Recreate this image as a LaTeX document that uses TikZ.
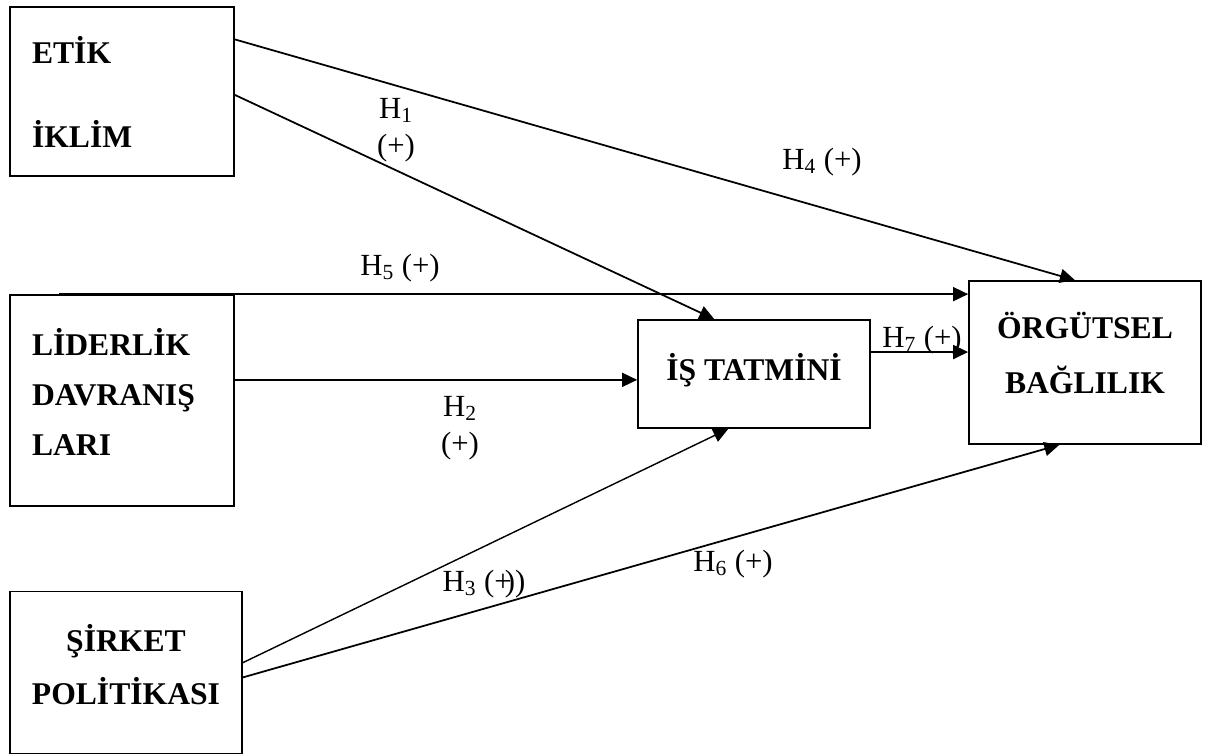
\documentclass[tikz,border=0pt]{standalone}
\usepackage{fontspec}
\setmainfont{Liberation Serif}
\usetikzlibrary{arrows.meta,calc}

\begin{document}
\begin{tikzpicture}[x=0.02cm, y=-0.02cm,
  every node/.style={font=\fontsize{17.5}{20}\selectfont},
  cbox/.style={draw, line width=1pt, inner sep=0pt, align=center,
               font=\fontsize{18}{22}\selectfont\bfseries},
  lbox/.style={cbox, align=left, inner xsep=0.44cm, text width=3.6cm},
  hlab/.style={inner sep=1pt, align=center},
  arr/.style={-{Triangle[length=0.3cm,width=0.28cm]}, line width=1pt}
]
\useasboundingbox (0,0) rectangle (1216,756);

%% --- boxes ---
\node[lbox, minimum width=4.48cm, minimum height=3.38cm]
      (et_b) at (122,91.5)  {ET\.IK\\[25.8pt]\.IKL\.IM};
\node[lbox, minimum width=4.48cm, minimum height=4.22cm]
      (ld_b) at (122,400.5) {L\.IDERL\.IK\\[6.5pt]DAVRANI\c{S}\\[6.5pt]LARI\\[-12pt]\mbox{}};
\node[cbox, minimum width=4.64cm, minimum height=3.24cm]
      (sp_b) at (126,672.5) {\c{S}\.IRKET\\[8.2pt]POL\.IT\.IKASI\\[-13pt]\mbox{}};
\node[cbox, minimum width=4.64cm, minimum height=2.16cm]
      (it_b) at (754,374)   {\.I\c{S} TATM\.IN\.I\\[-14pt]\mbox{}};
\node[cbox, minimum width=4.64cm, minimum height=3.26cm]
      (ob_b) at (1085,362.5) {\"ORG\"UTSEL\\[9.3pt]BA\u{G}LILIK\\[-10.6pt]\mbox{}};

%% --- connector ends ---
\coordinate (h4_s) at ($(et_b.north east)!0.195!(et_b.south east)$);
\coordinate (h4_e) at ($(ob_b.north west)!0.457!(ob_b.north east)$);
\coordinate (h1_s) at ($(et_b.north east)!0.52!(et_b.south east)$);
\coordinate (h1_e) at ($(it_b.north west)!0.33!(it_b.north east)$);
\coordinate (h5_s) at ($(ld_b.north west)!0.223!(ld_b.north east)$);
\coordinate (h2_s) at ($(ld_b.north east)!0.403!(ld_b.south east)$);
\coordinate (h7_s) at ($(it_b.north east)!0.3!(it_b.south east)$);
\coordinate (h3_s) at ($(sp_b.north east)!0.44!(sp_b.south east)$);
\coordinate (h3_e) at ($(it_b.south west)!0.39!(it_b.south east)$);
\coordinate (h6_s) at ($(sp_b.north east)!0.53!(sp_b.south east)$);
\coordinate (h6_e) at ($(ob_b.south west)!0.39!(ob_b.south east)$);

%% --- arrows ---
\draw[arr] (h4_s) -- (h4_e);
\draw[arr] (h1_s) -- (h1_e);
\draw[arr] (h5_s) -- (h5_s -| ob_b.west);
\draw[arr] (h2_s) -- (h2_s -| it_b.west);
\draw[arr] (h7_s) -- (h7_s -| ob_b.west);
\draw[arr, line width=0.8pt] (h3_s) -- (h3_e);
\draw[arr] (h6_s) -- (h6_e);

%% --- labels ---
\node[hlab] (h1_l) at (396,130) {H\textsubscript{1}\\[1pt](+)};
\node[hlab] (h4_l) at (822,162) {H\textsubscript{4} (+)};
\node[hlab] (h5_l) at (400,268) {H\textsubscript{5} (+)};
\node[hlab] (h2_l) at (460,428) {H\textsubscript{2}\\[1pt](+)};
\node[hlab] (h7_l) at (922,340) {H\textsubscript{7} (+)};
\node[hlab] (h3_l) at (484,584) {H\textsubscript{3} (+\kern-0.22em))};
\node[hlab] (h6_l) at (733,564) {H\textsubscript{6} (+)};

\end{tikzpicture}
\end{document}
